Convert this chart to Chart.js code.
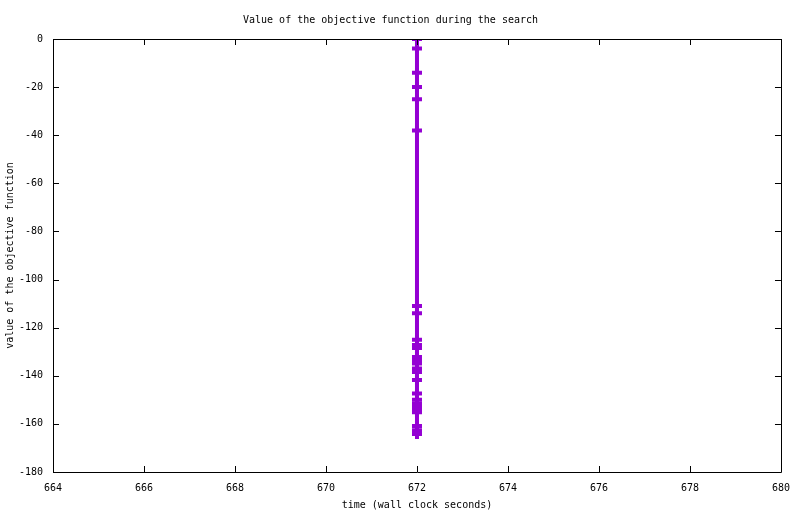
<!DOCTYPE html>
<html>
<head>
<meta charset="utf-8">
<script src="https://cdn.jsdelivr.net/npm/chart.js@4/dist/chart.umd.min.js"></script>
<style>
  html, body { margin: 0; padding: 0; background: #fff; }
  #wrap { width: 800px; height: 514px; }
</style>
</head>
<body>
<div id="wrap"><canvas id="objective"></canvas></div>
<script>
// search samples: wall clock time and objective value
const times = [672, 672, 672, 672, 672, 672, 672, 672, 672, 672, 672, 672, 672,
               672, 672, 672, 672, 672, 672, 672, 672, 672, 672, 672, 672, 672];
const values = [0, -4, -14, -20, -25, -38, -111, -114, -125, -127.2, -128.5,
                -132.2, -133.6, -134.9, -137, -138.4, -141.8, -147.4, -150, -151.5,
                -153, -154.4, -155.2, -160.9, -162.6, -164.2];

const xTicks = [664, 666, 668, 670, 672, 674, 676, 678, 680];
const yTicks = [0, -20, -40, -60, -80, -100, -120, -140, -160, -180];

const FONT = { family: '"DejaVu Sans Mono", monospace', size: 10, weight: 'normal' };
const PURPLE = '#9400d3';

// gnuplot style frame with inward ticks on all four sides
const frame = {
  id: 'frame',
  afterDraw(chart) {
    const c = chart.ctx, a = chart.chartArea;
    const xs = chart.scales.x, ys = chart.scales.y;
    c.save();
    c.strokeStyle = '#000';
    c.lineWidth = 1;
    c.beginPath();
    c.rect(Math.round(a.left) + 0.5, Math.round(a.top) + 0.5,
           Math.round(a.right - a.left), Math.round(a.bottom - a.top));
    xTicks.forEach(v => {
      const px = Math.round(xs.getPixelForValue(v)) + 0.5;
      c.moveTo(px, a.bottom); c.lineTo(px, a.bottom - 6);
      c.moveTo(px, a.top); c.lineTo(px, a.top + 6);
    });
    yTicks.forEach(v => {
      const py = Math.round(ys.getPixelForValue(v)) + 0.5;
      c.moveTo(a.left, py); c.lineTo(a.left + 6, py);
      c.moveTo(a.right, py); c.lineTo(a.right - 6, py);
    });
    c.stroke();
    c.restore();
  }
};

new Chart(document.getElementById('objective'), {
  type: 'line',
  data: {
    datasets: [{
      data: times.map((t, i) => ({ x: t, y: values[i] })),
      borderColor: PURPLE,
      backgroundColor: PURPLE,
      borderWidth: 4,
      pointStyle: 'cross',
      pointRadius: 5,
      pointBorderWidth: 4,
      pointBorderColor: PURPLE,
      fill: false,
      tension: 0
    }]
  },
  options: {
    responsive: true,
    maintainAspectRatio: false,
    animation: false,
    layout: { padding: { top: 0, right: 19, bottom: 0, left: 0 } },
    plugins: {
      legend: { display: false },
      tooltip: { enabled: false },
      title: {
        display: true,
        text: 'Value of the objective function during the search',
        color: '#000',
        font: FONT,
        padding: { top: 14, bottom: 13 }
      }
    },
    scales: {
      x: {
        type: 'linear',
        min: 664, max: 680,
        afterBuildTicks: s => { s.ticks = xTicks.map(v => ({ value: v })); },
        afterFit: s => { s.height = 42; },
        grid: { display: false, drawTicks: false },
        border: { display: false },
        ticks: { color: '#000', font: FONT, padding: 10, maxRotation: 0 },
        title: {
          display: true,
          text: 'time (wall clock seconds)',
          color: '#000',
          font: FONT,
          padding: { top: 0, bottom: 3 }
        }
      },
      y: {
        type: 'linear',
        min: -180, max: 0,
        afterBuildTicks: s => { s.ticks = yTicks.map(v => ({ value: v })); },
        afterFit: s => { s.width = 53; },
        grid: { display: false, drawTicks: false },
        border: { display: false },
        ticks: { color: '#000', font: FONT, padding: 10 },
        title: {
          display: true,
          text: 'value of the objective function',
          color: '#000',
          font: FONT,
          padding: { top: 4, bottom: 0 }
        }
      }
    }
  },
  plugins: [frame]
});
</script>
</body>
</html>
